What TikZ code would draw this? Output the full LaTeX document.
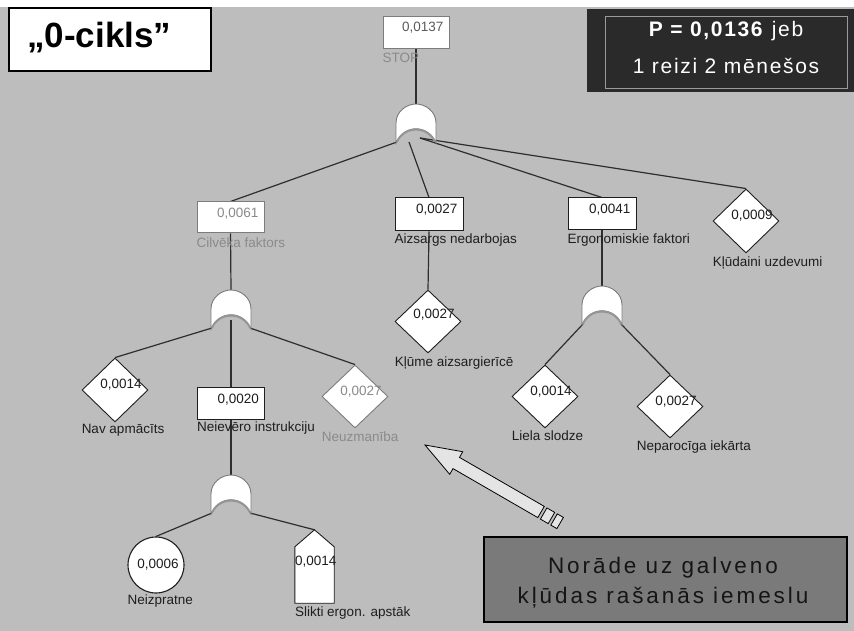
\documentclass[tikz,border=0pt]{standalone}
\usepackage{fontspec}
\setmainfont{Liberation Sans}
\newfontfamily\trackedfont[LetterSpace=8]{Liberation Sans}
\newfontfamily\widefont[LetterSpace=13]{Liberation Sans}
\usetikzlibrary{shapes.geometric}

\definecolor{sheet}{HTML}{BDBDBD}
\definecolor{ink}{HTML}{1E1E1E}
\definecolor{faded}{HTML}{8A8A8A}
\definecolor{fadedline}{HTML}{7C7C7C}
\definecolor{stopnum}{HTML}{5A5A5A}
\definecolor{wirec}{HTML}{2E2E2E}
\definecolor{gatec}{HTML}{7A7A7A}
\definecolor{gateband}{HTML}{959595}
\definecolor{panel}{HTML}{2A2A2A}
\definecolor{panelframe}{HTML}{9A9A9A}
\definecolor{notefill}{HTML}{7A7A7A}
\definecolor{notetext}{HTML}{151515}
\definecolor{pointerfill}{HTML}{E4E4E4}

\pgfdeclarelayer{sheetlayer}
\pgfdeclarelayer{wirelayer}
\pgfsetlayers{sheetlayer,wirelayer,main}

\newcommand{\smallfont}{\fontsize{13.5}{15}\selectfont}

\tikzset{
  evbox/.style={draw=ink, fill=white, line width=1pt, inner sep=0pt,
    minimum width=67pt, minimum height=32pt},
  evdiamond/.style={diamond, draw=ink, fill=white, line width=0.9pt,
    inner sep=0pt, minimum width=66pt, minimum height=63pt},
  valtext/.style={font=\smallfont, text=ink, inner sep=0pt},
  boxval/.style={valtext, anchor=base east, xshift=-6pt, yshift=-16pt},
  diaval/.style={valtext, anchor=center, xshift=6pt, yshift=5pt},
  lbltext/.style={font=\smallfont, text=ink, inner sep=0pt, anchor=north west},
  faded node/.style={draw=fadedline},
  faded text/.style={text=faded},
  wire/.style={draw=wirec, line width=1.2pt},
  orgate/.pic={
    \path[fill=white, draw=gatec, line width=0.9pt]
      (-20,39) -- (-20,19) .. controls (-20,7) and (-9,0) .. (0,0)
      .. controls (9,0) and (20,7) .. (20,19) -- (20,39)
      .. controls (12,20) and (-12,20) .. cycle;
    \draw[gateband, line width=2pt] (-19,37.5) .. controls (-11,21.5) and (11,21.5) .. (19,37.5);
    \coordinate (-in) at (0,0);
    \coordinate (-l) at (-19,38);
    \coordinate (-ml) at (-7,38);
    \coordinate (-c) at (0,30);
    \coordinate (-mr) at (4,34);
    \coordinate (-r) at (19,38);
  }
}

\begin{document}
\begin{tikzpicture}[x=1pt, y=-1pt]
  \useasboundingbox (0,0) rectangle (854,631);
  \begin{pgfonlayer}{sheetlayer}
    \fill[white] (0,0) rectangle (854,631);
    \fill[sheet] (0,7) rectangle (854,631);
  \end{pgfonlayer}

  % title and probability panel
  \node[draw=black, line width=2pt, fill=white, inner sep=0pt,
        minimum width=202pt, minimum height=63pt] (title) at (109.5,39.5) {};
  \node[anchor=base west, inner sep=0pt, font=\fontsize{35}{40}\selectfont\bfseries]
        (titletext) at (27,48) {„0-cikls”};

  \node[fill=panel, inner sep=0pt, minimum width=267pt, minimum height=83pt]
        (panel) at (720.5,50.5) {};
  \draw[panelframe, line width=1pt] (605,17) rectangle (847,89);
  \node[anchor=base, inner sep=0pt, text=white, font=\trackedfont\fontsize{21}{24}\selectfont]
        (pline1) at (726,37) {\textbf{P = 0,0136} jeb};
  \node[anchor=base, inner sep=0pt, text=white, font=\trackedfont\fontsize{21}{24}\selectfont]
        (pline2) at (726,74) {1 reizi 2 mēnešos};

  % top event
  \node[evbox, faded node, minimum width=66pt] (stop) at (416,33) {};
  \node[boxval, text=stopnum, yshift=1pt] (stopv) at (stop.north east) {0,0137};
  \node[lbltext, faded text, yshift=-3pt] (stopl) at (stop.south west) {STOP};
  \pic (g0) at (416,104) {orgate};

  % second level
  \node[evbox, faded node, minimum height=31pt] (cilv) at (230.5,217.5) {};
  \node[boxval, faded text] (cilvv) at (cilv.north east) {0,0061};
  \node[lbltext, faded text, yshift=-4pt] (cilvl) at (cilv.south west) {Cilvēka faktors};

  \node[evbox, minimum width=68pt, minimum height=33pt] (aizs) at (429,214.5) {};
  \node[boxval] (aizsv) at (aizs.north east) {0,0027};
  \node[lbltext, yshift=-2pt] (aizsl) at (aizs.south west) {Aizsargs nedarbojas};

  \node[evbox, minimum width=68pt] (ergo) at (602,214) {};
  \node[boxval] (ergov) at (ergo.north east) {0,0041};
  \node[lbltext, yshift=-3pt] (ergol) at (ergo.south west) {Ergonomiskie faktori};

  \node[evdiamond, minimum height=64pt] (kluda) at (746,221) {};
  \node[diaval] (kludav) at (kluda.center) {0,0009};
  \node[lbltext, yshift=-3pt] (kludal) at (kluda.west |- kluda.south) {Kļūdaini uzdevumi};

  % human factor branch
  \pic (g1) at (231,290) {orgate};

  \node[evdiamond, minimum height=64pt] (nav) at (115,390) {};
  \node[diaval] (navv) at (nav.center) {0,0014};
  \node[lbltext, yshift=-2pt] (navl) at (nav.west |- nav.south) {Nav apmācīts};

  \node[evbox] (neiev) at (231,403.5) {};
  \node[boxval] (neievv) at (neiev.north east) {0,0020};
  \node[lbltext, yshift=-2pt] (neievl) at (neiev.south west) {Neievēro instrukciju};

  \node[evdiamond, draw=fadedline] (neuzm) at (355,396.5) {};
  \node[diaval, faded text] (neuzmv) at (neuzm.center) {0,0027};
  \node[lbltext, faded text, yshift=-3pt] (neuzml) at (neuzm.west |- neuzm.south) {Neuzmanība};

  \pic (g3) at (231,475) {orgate};

  \node[circle, draw=ink, fill=white, line width=1.1pt, inner sep=0pt,
        minimum size=56pt] (neizp) at (156,565) {};
  \node[valtext, xshift=2pt] (neizpv) at (neizp.center) {0,0006};
  \node[lbltext, yshift=-1pt] (neizpl) at (neizp.west |- neizp.south) {Neizpratne};

  \node[inner sep=0pt, minimum width=39pt, minimum height=56pt] (slikti) at (314.5,575) {};
  \filldraw[fill=white, draw=ink, line width=0.9pt, line join=miter]
    (slikti.south west) -- (slikti.north west) -- ([yshift=17pt]slikti.north)
    -- (slikti.north east) -- (slikti.south east) -- cycle;
  \coordinate (slikti-peak) at ([yshift=17pt]slikti.north);
  \node[valtext, anchor=base west] (sliktiv) at (295,565) {0,0014};
  \node[lbltext, yshift=-3pt] (sliktil) at (slikti.south west) {Slikti ergon. apstāk};

  % guard branch
  \node[evdiamond] (kliume) at (428,321.5) {};
  \node[diaval, yshift=2pt] (kliumev) at (kliume.center) {0,0027};
  \node[lbltext, yshift=-3pt] (kliumel) at (kliume.west |- kliume.south) {Kļūme aizsargierīcē};

  % ergonomics branch
  \pic (g2) at (602,286) {orgate};

  \node[evdiamond] (liela) at (545,396.5) {};
  \node[diaval] (lielav) at (liela.center) {0,0014};
  \node[lbltext, yshift=-2pt] (lielal) at (liela.west |- liela.south) {Liela slodze};

  \node[evdiamond] (nepar) at (670,406.5) {};
  \node[diaval] (neparv) at (nepar.center) {0,0027};
  \node[lbltext, yshift=-2pt] (neparl) at (nepar.west |- nepar.south) {Neparocīga iekārta};

  % connectors
  \begin{pgfonlayer}{wirelayer}
    \draw[wire] (stop.south) -- (g0-in);
    \draw[wire] (g0-l) -- (cilv.north);
    \draw[wire] (g0-ml) -- (aizs.north);
    \draw[wire] (g0-mr) -- (ergo.north);
    \draw[wire] (g0-mr) -- (kluda.north);

    \draw[wire] (cilv.south) -- (g1-in);
    \draw[wire] (g1-l) -- (nav.north);
    \draw[wire] (g1-c) -- (neiev.north);
    \draw[wire] (g1-r) -- (neuzm.north);
    \draw[wire] (neiev.south) -- (g3-in);
    \draw[wire] (g3-l) -- (neizp.north);
    \draw[wire] (g3-r) -- (slikti-peak);

    \draw[wire] (aizs.south) -- (kliume.north);

    \draw[wire] (ergo.south) -- (g2-in);
    \draw[wire] (g2-l) -- (liela.north);
    \draw[wire] (g2-r) -- (nepar.north);
  \end{pgfonlayer}

  % pointer arrow with banded tail
  \filldraw[fill=pointerfill, draw=black, line width=0.8pt, line join=miter]
    (425,445) -- (462.7,451.7) -- (459.5,457.4) -- (544.3,506.4)
    -- (537.8,517.6) -- (453.0,468.6) -- (449.7,474.3) -- cycle;
  \filldraw[fill=pointerfill, draw=black, line width=0.8pt]
    (546.9,507.9) -- (554.7,512.4) -- (548.2,523.6) -- (540.4,519.1) -- cycle;
  \filldraw[fill=pointerfill, draw=black, line width=0.8pt]
    (557.3,513.9) -- (563.4,517.4) -- (556.9,528.6) -- (550.8,525.1) -- cycle;

  % note box
  \node[draw=black, line width=1.2pt, fill=notefill, inner sep=0pt,
        minimum width=363pt, minimum height=85pt] (note) at (665.5,579.5) {};
  \node[anchor=base, inner sep=0pt, text=notetext, font=\widefont\fontsize{22.5}{26}\selectfont]
        (noteline1) at (663,573) {Norāde uz galveno};
  \node[anchor=base, inner sep=0pt, text=notetext, font=\widefont\fontsize{22.5}{26}\selectfont]
        (noteline2) at (663,603) {kļūdas rašanās iemeslu};
\end{tikzpicture}
\end{document}
